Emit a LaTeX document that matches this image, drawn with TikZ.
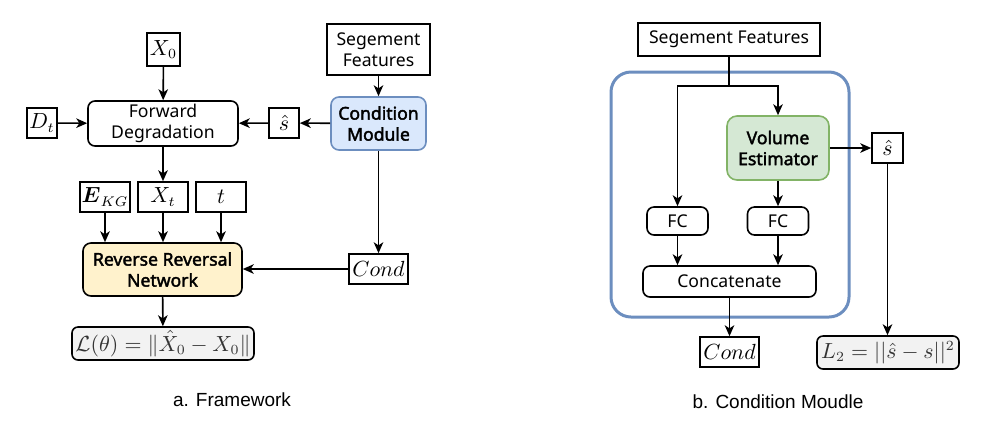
\documentclass[tikz,border=0pt]{standalone}
\usepackage{amsmath}
\usepackage{fontspec}
\setmainfont{Noto Sans}[AutoFakeBold=2.2]
\newfontfamily\capfont{Liberation Sans}
\usetikzlibrary{arrows.meta}

\definecolor{cmfill}{HTML}{DAE8FC}
\definecolor{cmline}{HTML}{6C8EBF}
\definecolor{vefill}{HTML}{D5E8D4}
\definecolor{veline}{HTML}{82B366}
\definecolor{rrnfill}{HTML}{FFF2CC}
\definecolor{lossfill}{HTML}{F2F2F2}

\begin{document}
\begin{tikzpicture}[x=0.5pt,y=-0.5pt,
  base/.style={draw=black, line width=0.8pt, inner sep=0pt, align=center,
    font=\fontsize{8.8}{10.5}\selectfont, text=black},
  sq/.style={base},
  rnd/.style={base, rounded corners=3.5pt},
  msq/.style={base, font=\fontsize{10.5}{12}\selectfont},
  bold/.style={font=\fontsize{8.8}{10.5}\selectfont\bfseries},
  sz/.style 2 args={minimum width=#1, minimum height=#2},
  arr/.style={-{Stealth[length=5.5pt,width=4.8pt,inset=1.6pt]}, line width=0.8pt},
  captext/.style={font=\capfont\fontsize{9.5}{11}\selectfont, text=black}
]
\useasboundingbox (0,0) rectangle (995,441);

% ---------------- a. Framework ----------------
\node[msq, sz={16.5pt}{16.5pt}] (x0) at (163.5,49.5) {$X_0$};
\node[sq, sz={51.5pt}{25.5pt}] (sega) at (378.5,49.5) {Segement\\Features};
\node[rnd, sz={75pt}{22.5pt}] (fd) at (163,123.5) {Forward\\Degradation};
\node[msq, sz={15pt}{15pt}] (dt) at (42,123) {$D_t$};
\node[msq, sz={15pt}{15pt}] (sha) at (284,123) {$\hat{s}$};
\node[rnd, bold, fill=cmfill, draw=cmline, rounded corners=4pt, sz={47.5pt}{26.5pt}] (cm) at (378.5,123.5) {Condition\\Module};
\node[msq, sz={25pt}{15pt}] (ekg) at (105,197) {$\boldsymbol{E}_{KG}$};
\node[msq, sz={25pt}{15pt}] (xt) at (163,197) {$X_t$};
\node[msq, sz={25pt}{15pt}] (tt) at (221,197) {$t$};
\node[rnd, bold, fill=rrnfill, rounded corners=4pt, sz={79.5pt}{26.5pt}] (rrn) at (162.5,269.5) {Reverse Reversal\\Network};
\node[msq, sz={29.5pt}{15pt}] (conda) at (378.5,269) {$Cond$};
\node[msq, fill=lossfill, rounded corners=3pt, text=black!80, sz={91pt}{16.5pt}] (loss) at (163,343.5) {$\mathcal{L}(\theta)=\|\hat{X}_0-X_0\|$};

\draw[arr] (x0) -- (fd);
\draw[arr] (dt) -- (fd);
\draw[arr] (cm) -- (sha);
\draw[arr] (sha) -- (fd);
\draw[arr] (sega) -- (cm);
\draw[arr] (fd) -- (xt);
\draw[arr] (ekg) -- (ekg |- rrn.north);
\draw[arr] (xt) -- (xt |- rrn.north);
\draw[arr] (tt) -- (tt |- rrn.north);
\draw[arr] (cm) -- (conda);
\draw[arr] (conda.west) -- (conda.west -| rrn.east);
\draw[arr] (rrn) -- (loss);

\node[captext] (capa) at (232,400) {a. Framework};

% ---------------- b. Condition module ----------------
\node[draw=cmline, line width=1.5pt, rounded corners=10pt, inner sep=0pt, sz={119pt}{122.5pt}] (cmod) at (730,194.5) {};
\node[sq, sz={91pt}{16.5pt}] (segb) at (729,39.5) {Segement Features};
\node[rnd, bold, fill=vefill, draw=veline, rounded corners=5pt, sz={51pt}{32pt}] (ve) at (778,148) {Volume\\Estimator};
\node[msq, sz={15.5pt}{15pt}] (shb) at (887.5,148) {$\hat{s}$};
\node[rnd, sz={30.5pt}{14pt}] (fc1) at (677.5,221) {FC};
\node[rnd, sz={30.5pt}{14pt}] (fc2) at (778,221) {FC};
\node[rnd, sz={86.5pt}{15.5pt}] (cat) at (729.5,281.5) {Concatenate};
\node[msq, sz={29.5pt}{15pt}] (condb) at (729.5,352) {$Cond$};
\node[msq, fill=lossfill, rounded corners=3pt, text=black!80, sz={71pt}{16.5pt}] (l2) at (888,352.5) {$L_2=||\hat{s}-s||^2$};

\coordinate (br) at (729,86);
\draw[line width=0.8pt] (segb.south) -- (br);
\draw[arr] (br) -| (fc1.north);
\draw[arr] (br) -| (ve.north);
\draw[arr] (ve) -- (shb);
\draw[arr] (ve) -- (fc2);
\draw[arr] (fc1) -- (fc1 |- cat.north);
\draw[arr] (fc2) -- (fc2 |- cat.north);
\draw[arr] (cat.south -| condb) -- (condb);
\draw[arr] (shb) -- (shb |- l2.north);

\node[captext] (capb) at (778,402) {b. Condition Moudle};
\end{tikzpicture}
\end{document}
